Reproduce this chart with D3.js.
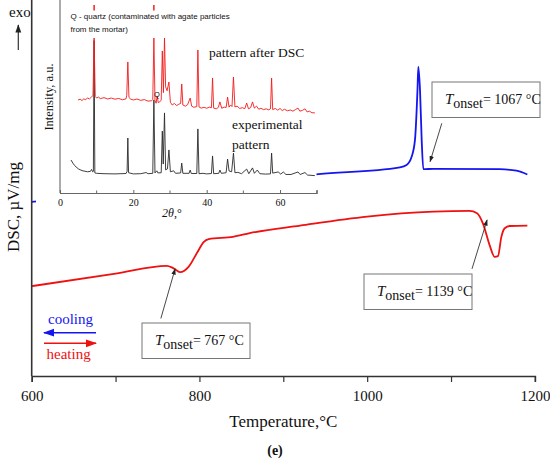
<!DOCTYPE html>
<html>
<head>
<meta charset="utf-8">
<script src="https://cdn.jsdelivr.net/npm/d3@7"></script>
<style>
  body { margin: 0; background: #fff; }
  svg { display: block; }
  text { font-family: "Liberation Serif", "Times New Roman", serif; fill: #111; }
  .sans { font-family: "Liberation Sans", Arial, sans-serif; }
</style>
</head>
<body>
<svg width="550" height="458"></svg>
<script>
// DSC heating curve (red): temperature, signal (a.u.)
const heatT   = [600, 700, 761, 767, 772, 777, 782, 787, 797, 805, 811, 840, 860, 920, 1000, 1079, 1122, 1131, 1138, 1146, 1152, 1156, 1160, 1164, 1170, 1191];
const heatDSC = [2.39, 2.72, 2.93, 2.89, 2.82, 2.76, 2.80, 2.90, 3.27, 3.56, 3.64, 3.70, 3.80, 4.00, 4.24, 4.37, 4.39, 4.33, 4.06, 3.48, 3.17, 3.19, 3.70, 3.93, 3.99, 4.00];

// DSC cooling curve (blue)
const coolT   = [600, 700, 800, 942, 1039, 1047, 1053, 1057, 1060, 1061, 1063, 1065, 1067, 1079, 1158, 1178, 1191];
const coolDSC = [4.63, 4.85, 5.06, 5.37, 5.55, 5.61, 5.83, 6.28, 7.61, 8.23, 7.61, 6.28, 5.50, 5.51, 5.50, 5.46, 5.36];

const mainTicks = [600, 700, 800, 900, 1000, 1100, 1200];
const mainTickLabels = [600, 800, 1000, 1200];

// onset annotations: label, box corner, arrow from / to (temperature, signal)
const onsets = [
  { label: "767 °C",  T: 767,  box: [142, 323], arrowFrom: [754, 1.53], arrowTo: [771, 2.85] },
  { label: "1139 °C", T: 1139, box: [364, 274], arrowFrom: [1125, 2.85], arrowTo: [1143, 4.15] },
  { label: "1067 °C", T: 1067, box: [432, 82],  arrowFrom: [1089, 6.72], arrowTo: [1075, 5.70] }
];

// inset XRD patterns: [2theta, intensity a.u.]
const xrdExperimental = [[3.0,17.1],[3.5,15.5],[4.0,14.2],[5.0,12.5],[6.0,11.6],[7.5,11.0],[8.3,11.2],[8.6,12.2],[8.9,11.0],[9.1,11.2],[9.3,79],[9.5,10.4],[10,10.2],[12,10],[15,9.9],[18,10.1],[18.3,11.2],[18.5,28.5],[18.7,10.5],[20,9.9],[22,10],[23.5,10.6],[24,10],[25.3,10.2],[25.6,48.2],[25.9,10.4],[26.4,11.5],[26.7,10.4],[27.6,10.5],[27.9,32.1],[28.15,15],[28.5,41.5],[28.8,12],[29.3,12.5],[29.7,22.3],[30.1,11],[31.0,11.5],[31.5,10.2],[32.9,10.4],[33.2,15.5],[33.5,10.2],[35.2,10.2],[35.5,11.9],[35.8,10.1],[37.3,10.1],[37.6,33.2],[37.9,10],[39,10.2],[40,9.9],[41.3,10.1],[41.6,19.2],[41.9,10],[43.3,10.2],[43.6,11.9],[44,10.2],[45.3,10.5],[45.7,17.6],[46.1,11.4],[46.8,11],[47.3,20.7],[47.7,10.5],[48.5,10.7],[49.5,10],[50.9,12.4],[51.5,10],[52.5,13],[53.0,10.2],[53.8,11.9],[54.5,10],[56,9.8],[57.4,9.9],[57.7,20.7],[58.0,10.3],[59.5,10.9],[60.2,9.8],[60.9,10.9],[61.6,9.6],[63,9.6],[64.9,10.9],[65.5,9.6],[66.8,10.6],[67.5,9.3],[69.5,9.0]];

const xrdAfterDSC = [[4.9,48.2],[5.5,48.6],[6,47.9],[6.5,48.8],[7,48.3],[7.5,49.3],[8,48.7],[8.5,49.6],[9.0,50.5],[9.3,80.3],[9.6,50],[10,49.2],[10.5,49.7],[11,48.9],[12,49.4],[13,48.7],[14,49.2],[15,48.6],[16,49],[17,48.3],[18.0,48.8],[18.2,50.5],[18.5,67.9],[18.8,49.5],[19.3,48.6],[20,48.2],[21,48.7],[22,48],[23,48.4],[24,47.6],[25,47.8],[25.3,48.5],[25.6,80.3],[25.9,48],[26.2,46.5],[26.5,50.3],[26.8,46.8],[27.2,47.3],[27.6,48],[27.9,73.6],[28.2,52],[28.5,80.3],[28.8,55],[29.2,53],[29.7,57.5],[30.1,47],[30.6,45.6],[31.2,46.4],[31.8,45.3],[32.4,46],[32.9,46.4],[33.2,56.5],[33.5,45.6],[34.2,45],[34.8,45.8],[35.5,49.2],[35.9,45],[36.5,44.4],[37.3,44.8],[37.6,74.1],[37.9,44.6],[38.5,44],[39.3,44.4],[40,43.9],[40.7,44.5],[41.3,44.2],[41.6,59.6],[41.9,44],[42.6,43.6],[43.2,44.4],[43.6,47.2],[44.1,43.9],[44.8,44.5],[45.3,44.3],[45.7,49.7],[46.1,44.5],[46.5,45.6],[46.9,44.8],[47.3,60.1],[47.7,44.6],[48.3,45],[49,43.8],[49.7,44.2],[50.4,43.7],[50.9,46.6],[51.4,43.6],[52,44.3],[52.5,47.2],[53,44],[53.6,45],[54.2,43.4],[54.8,43.9],[55.5,43.2],[56.2,43.6],[56.9,43.1],[57.4,43.6],[57.7,59.6],[58,43.2],[58.7,43.8],[59.4,42.9],[60,43.8],[60.6,42.7],[61.2,43.4],[62,42.6],[62.8,43],[63.5,42.4],[64.2,43.2],[64.9,44],[65.4,42.4],[66.1,42.8],[66.8,43.6],[67.4,42],[68,42.4],[68.7,41.6],[69.5,41.5]];

const quartzMarks = [9.3, 25.6];
const insetTicks = [0, 20, 40, 60];
const insetMinorTicks = [10, 30, 50, 70];

const svg = d3.select('svg');

// ---- main DSC plot ----
const x = d3.scaleLinear().domain([600, 1200]).range([31.7, 534.9]);
const y = d3.scaleLinear().domain([0, 10]).range([376, 0]);

const line = d3.line().x(d => x(d[0])).y(d => y(d[1])).curve(d3.curveMonotoneX);

svg.append('path')
  .datum(coolT.map((t, i) => [t, coolDSC[i]]))
  .attr('d', line)
  .attr('fill', 'none').attr('stroke', '#1515f0').attr('stroke-width', 1.8);

svg.append('path')
  .datum(heatT.map((t, i) => [t, heatDSC[i]]))
  .attr('d', line)
  .attr('fill', 'none').attr('stroke', '#f01010').attr('stroke-width', 1.8);

// x axis
const xAxis = d3.axisBottom(x)
  .tickValues(mainTicks)
  .tickSize(6)
  .tickFormat(d => mainTickLabels.includes(d) ? d : '');
const gx = svg.append('g').attr('transform', `translate(0,${y(0)})`).call(xAxis);
gx.select('.domain').attr('stroke', '#333').attr('stroke-width', 1.6);
gx.selectAll('.tick line').attr('stroke', '#333').attr('stroke-width', 1.2);
gx.selectAll('.tick text')
  .attr('font-family', '"Liberation Serif", serif')
  .attr('font-size', 15).attr('fill', '#111').attr('dy', '1.05em');

// left axis line (no ticks)
svg.append('line')
  .attr('x1', x(600)).attr('x2', x(600)).attr('y1', 0).attr('y2', y(0))
  .attr('stroke', '#333').attr('stroke-width', 1.6);

svg.append('text').attr('x', (x(600) + x(1200)) / 2).attr('y', 427)
  .attr('text-anchor', 'middle').attr('font-size', 17).text('Temperature,°C');

svg.append('text').attr('transform', 'translate(19,207) rotate(-90)')
  .attr('text-anchor', 'middle').attr('font-size', 17).text('DSC, µV/mg');

svg.append('text').attr('x', 275).attr('y', 455)
  .attr('text-anchor', 'middle').attr('font-size', 14).attr('font-weight', 'bold')
  .text('(e)');

// exo arrow
const defs = svg.append('defs');
function marker(id, color) {
  defs.append('marker').attr('id', id)
    .attr('viewBox', '0 0 10 10').attr('refX', 9).attr('refY', 5)
    .attr('markerWidth', 7).attr('markerHeight', 7).attr('orient', 'auto')
    .append('path').attr('d', 'M0,1.5L10,5L0,8.5Z').attr('fill', color);
}
marker('arrK', '#222');
marker('arrR', '#f01010');
marker('arrB', '#1515f0');

svg.append('text').attr('x', 9).attr('y', 17).attr('font-size', 15).text('exo');
svg.append('line').attr('x1', 18.3).attr('x2', 18.3).attr('y1', 50).attr('y2', 25)
  .attr('stroke', '#333').attr('stroke-width', 1.2).attr('marker-end', 'url(#arrK)');

// legend arrows
svg.append('text').attr('x', 48).attr('y', 324).attr('font-size', 15)
  .style('fill', '#1515f0').text('cooling');
svg.append('line').attr('x1', 96).attr('x2', 44).attr('y1', 332.7).attr('y2', 332.7)
  .attr('stroke', '#1515f0').attr('stroke-width', 1.6).attr('marker-end', 'url(#arrB)');
svg.append('line').attr('x1', 44).attr('x2', 96).attr('y1', 343.3).attr('y2', 343.3)
  .attr('stroke', '#f01010').attr('stroke-width', 1.6).attr('marker-end', 'url(#arrR)');
svg.append('text').attr('x', 46.5).attr('y', 359).attr('font-size', 15)
  .style('fill', '#f01010').text('heating');

// onset annotations
onsets.forEach(o => {
  svg.append('line')
    .attr('x1', x(o.arrowFrom[0])).attr('y1', y(o.arrowFrom[1]))
    .attr('x2', x(o.arrowTo[0])).attr('y2', y(o.arrowTo[1]))
    .attr('stroke', '#333').attr('stroke-width', 0.9).attr('marker-end', 'url(#arrK)');
  const g = svg.append('g').attr('transform', `translate(${o.box[0]},${o.box[1]})`);
  g.append('rect').attr('width', 108).attr('height', 35.5)
    .attr('fill', '#fff').attr('stroke', '#777').attr('stroke-width', 1);
  const t = g.append('text').attr('x', 13).attr('y', 22).attr('font-size', 14);
  t.append('tspan').attr('font-style', 'italic').attr('font-size', 15).text('T');
  t.append('tspan').attr('dy', 4).text('onset');
  t.append('tspan').attr('dy', -4).text('= ' + o.label);
});

// ---- inset XRD ----
const inset = svg.append('g');
inset.append('rect').attr('x', 36).attr('y', 0).attr('width', 280.5).attr('height', 222).attr('fill', '#fff');

const xi = d3.scaleLinear().domain([0, 70]).range([60, 316.7]);
const yi = d3.scaleLinear().domain([0, 100]).range([193, 0]);
const lineI = d3.line().x(d => xi(d[0])).y(d => yi(d[1]));

inset.append('path').datum(xrdExperimental).attr('d', lineI)
  .attr('fill', 'none').attr('stroke', '#2a2a2a').attr('stroke-width', 0.9);
inset.append('path').datum(xrdAfterDSC).attr('d', lineI)
  .attr('fill', 'none').attr('stroke', '#f41a1a').attr('stroke-width', 0.9);

inset.selectAll('.qmark').data(quartzMarks).enter().append('line')
  .attr('x1', d => xi(d)).attr('x2', d => xi(d))
  .attr('y1', yi(97.4)).attr('y2', yi(94.5))
  .attr('stroke', '#f01010').attr('stroke-width', 1.4);

// inset axes
inset.append('line').attr('x1', xi(0)).attr('x2', xi(0)).attr('y1', 0).attr('y2', yi(0))
  .attr('stroke', '#666').attr('stroke-width', 1.1);
const xiAxis = d3.axisBottom(xi).tickValues(insetTicks).tickSize(-3).tickPadding(6);
const gxi = inset.append('g').attr('transform', `translate(0,${yi(0)})`).call(xiAxis);
gxi.select('.domain').attr('stroke', '#666').attr('stroke-width', 1.1);
gxi.selectAll('.tick line').attr('stroke', '#666');
gxi.selectAll('.tick text').attr('font-family', '"Liberation Serif", serif')
  .attr('font-size', 10).attr('fill', '#222');
inset.selectAll('.minor').data(insetMinorTicks).enter().append('line')
  .attr('x1', d => xi(d)).attr('x2', d => xi(d))
  .attr('y1', yi(0)).attr('y2', yi(0) - 2.5).attr('stroke', '#666');

const th = inset.append('text').attr('x', 162).attr('y', 217).attr('font-size', 12);
th.append('tspan').attr('font-style', 'italic').text('2θ');
th.append('tspan').text(',°');

inset.append('text').attr('transform', 'translate(53,97) rotate(-90)')
  .attr('text-anchor', 'middle').attr('font-size', 12.5).text('Intensity, a.u.');

inset.append('text').attr('class', 'sans').attr('x', 70.5).attr('y', 19).attr('font-size', 8)
  .style('font-family', '"Liberation Sans", Arial, sans-serif')
  .text('Q - quartz (contaminated with agate particles');
inset.append('text').attr('class', 'sans').attr('x', 70.5).attr('y', 31.5).attr('font-size', 8)
  .style('font-family', '"Liberation Sans", Arial, sans-serif')
  .text('from the mortar)');
inset.append('text').attr('x', xi(26.4)).attr('y', 97).attr('font-size', 7.5)
  .attr('text-anchor', 'middle')
  .style('font-family', '"Liberation Sans", Arial, sans-serif').text('Q');

inset.append('text').attr('x', 209).attr('y', 57).attr('font-size', 13.5).text('pattern after DSC');
inset.append('text').attr('x', 232).attr('y', 129).attr('font-size', 13.5).text('experimental');
inset.append('text').attr('x', 232).attr('y', 148.5).attr('font-size', 13.5).text('pattern');
</script>
</body>
</html>
